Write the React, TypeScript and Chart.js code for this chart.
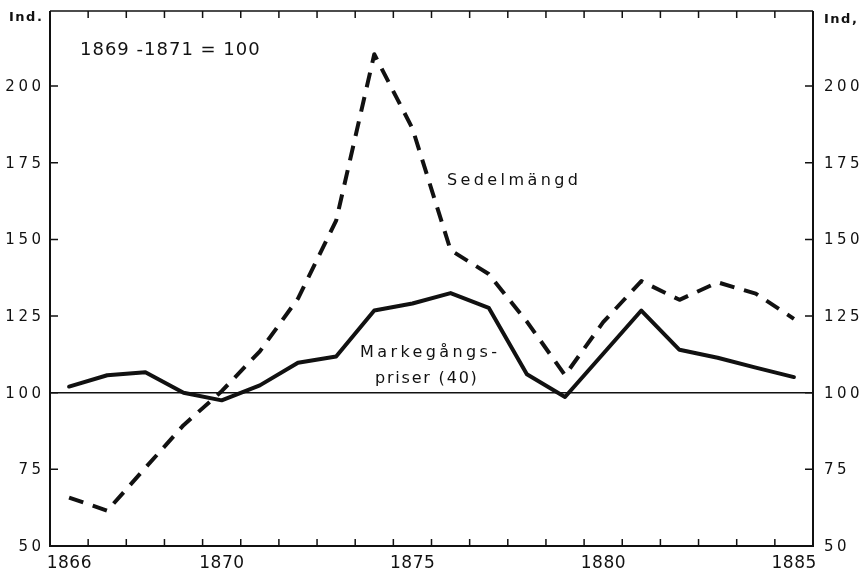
import React, { useEffect, useRef } from 'react';
import { Chart, registerables } from 'chart.js';

Chart.register(...registerables);

// ---- data ----
const years = [
  '1866', '1867', '1868', '1869', '1870', '1871', '1872', '1873', '1874', '1875',
  '1876', '1877', '1878', '1879', '1880', '1881', '1882', '1883', '1884', '1885',
];
const markegangspriser = [
  102, 105.7, 106.7, 100, 97.5, 102.4, 109.8, 111.8, 126.8, 129.1,
  132.5, 127.7, 106, 98.6, 112.7, 126.8, 114, 111.4, 108.2, 105.1,
];
const sedelmangd = [
  65.8, 61.5, 75.5, 89.4, 100.5, 113.5, 130.7, 156.1, 210.4, 186.2,
  146.5, 138.7, 123.2, 105.7, 123, 136.4, 130.3, 136, 132.3, 124.1,
];
const yTickValues = [50, 75, 100, 125, 150, 175, 200];
const xLabelYears = ['1866', '1870', '1875', '1880', '1885'];
const Y_MIN = 50;
const Y_MAX = 224.5;
const BASE_VALUE = 100;

const baseNote = '1869 -1871 = 100';
const sedelLabel = 'Sedelmängd';
const markeLabel1 = 'Markegångs-';
const markeLabel2 = 'priser (40)';
const unitLeft = 'Ind.';
const unitRight = 'Ind,';

const FONT = '"DejaVu Sans", sans-serif';
const INK = '#111111';

function drawSpaced(
  ctx: CanvasRenderingContext2D,
  text: string,
  x: number,
  y: number,
  spacing: number,
  align: 'left' | 'right' | 'center'
) {
  (ctx as any).letterSpacing = spacing + 'px';
  const w = ctx.measureText(text).width - spacing;
  let sx = x;
  if (align === 'right') sx = x - w;
  else if (align === 'center') sx = x - w / 2;
  ctx.textAlign = 'left';
  ctx.fillText(text, sx, y);
  (ctx as any).letterSpacing = '0px';
}

const framePlugin = {
  id: 'framePlugin',
  beforeDatasetsDraw(chart: any) {
    const { ctx, chartArea, scales } = chart;
    const { left, right, top, bottom } = chartArea;
    const x = scales.x;
    const y = scales.y;
    ctx.save();
    ctx.strokeStyle = INK;
    ctx.lineCap = 'butt';

    // base line at 100
    const by = y.getPixelForValue(BASE_VALUE);
    ctx.lineWidth = 1.5;
    ctx.beginPath();
    ctx.moveTo(left, by);
    ctx.lineTo(right, by);
    ctx.stroke();

    // frame
    ctx.lineWidth = 2;
    ctx.beginPath();
    ctx.moveTo(left, top);
    ctx.lineTo(left, bottom);
    ctx.lineTo(right, bottom);
    ctx.lineTo(right, top);
    ctx.stroke();
    ctx.lineWidth = 1.5;
    ctx.beginPath();
    ctx.moveTo(left, top);
    ctx.lineTo(right, top);
    ctx.stroke();

    // y ticks (inward, both sides)
    ctx.lineWidth = 1.5;
    yTickValues.forEach((v) => {
      if (v === Y_MIN) return;
      const py = y.getPixelForValue(v);
      ctx.beginPath();
      ctx.moveTo(left, py);
      ctx.lineTo(left + 8, py);
      ctx.moveTo(right - 8, py);
      ctx.lineTo(right, py);
      ctx.stroke();
    });

    // x ticks at category boundaries (inward, top and bottom)
    for (let i = 1; i < years.length; i++) {
      const px = (x.getPixelForValue(i - 1) + x.getPixelForValue(i)) / 2;
      ctx.beginPath();
      ctx.moveTo(px, bottom);
      ctx.lineTo(px, bottom - 7);
      ctx.moveTo(px, top);
      ctx.lineTo(px, top + 7);
      ctx.stroke();
    }
    ctx.restore();
  },
  afterDraw(chart: any) {
    const { ctx, chartArea, scales } = chart;
    const { left, right } = chartArea;
    const x = scales.x;
    const y = scales.y;
    ctx.save();
    ctx.fillStyle = INK;
    ctx.textBaseline = 'middle';

    // y tick labels both sides
    ctx.font = `15px ${FONT}`;
    yTickValues.forEach((v) => {
      const py = y.getPixelForValue(v) + 1;
      drawSpaced(ctx, String(v), left - 9, py, 3.5, 'right');
      drawSpaced(ctx, String(v), right + 11, py, 3.5, 'left');
    });

    // x labels
    ctx.font = `17px ${FONT}`;
    xLabelYears.forEach((yr) => {
      const idx = years.indexOf(yr);
      const px = x.getPixelForValue(idx);
      drawSpaced(ctx, yr, px, 564, 0.5, 'center');
    });

    // unit labels
    ctx.font = `bold 13px ${FONT}`;
    drawSpaced(ctx, unitLeft, 9, 18, 1.5, 'left');
    drawSpaced(ctx, unitRight, 824, 20, 1.5, 'left');

    // annotations
    ctx.font = `18px ${FONT}`;
    drawSpaced(ctx, baseNote, 80, 50, 1, 'left');
    ctx.font = `16px ${FONT}`;
    drawSpaced(ctx, sedelLabel, 447, 181, 3.4, 'left');
    drawSpaced(ctx, markeLabel1, 360, 353, 3.4, 'left');
    drawSpaced(ctx, markeLabel2, 375, 379, 1.8, 'left');

    ctx.restore();
  },
};

export default function App() {
  const canvasRef = useRef<HTMLCanvasElement | null>(null);

  useEffect(() => {
    const canvas = canvasRef.current;
    if (!canvas) return;
    const chart = new Chart(canvas, {
      type: 'line',
      data: {
        labels: years,
        datasets: [
          {
            label: 'Markegångspriser (40)',
            data: markegangspriser,
            borderColor: INK,
            borderWidth: 4,
            pointRadius: 0,
            tension: 0,
            borderJoinStyle: 'round',
            borderCapStyle: 'round',
            fill: false,
          },
          {
            label: 'Sedelmängd',
            data: sedelmangd,
            borderColor: INK,
            borderWidth: 4,
            borderDash: [15, 10],
            pointRadius: 0,
            tension: 0,
            borderJoinStyle: 'round',
            borderCapStyle: 'butt',
            fill: false,
          },
        ],
      },
      options: {
        responsive: false,
        animation: false,
        devicePixelRatio: 1,
        layout: { padding: { top: 11, right: 49, left: 0, bottom: 0 } },
        plugins: {
          legend: { display: false },
          tooltip: { enabled: false },
        },
        scales: {
          x: {
            type: 'category',
            offset: true,
            grid: { display: false },
            border: { display: false },
            ticks: { display: false },
            afterFit: (s: any) => {
              s.height = 28;
            },
          },
          y: {
            type: 'linear',
            min: Y_MIN,
            max: Y_MAX,
            grid: { display: false },
            border: { display: false },
            ticks: { display: false },
            afterFit: (s: any) => {
              s.width = 50;
            },
          },
        },
      },
      plugins: [framePlugin],
    } as any);
    return () => chart.destroy();
  }, []);

  return (
    <div style={{ position: 'absolute', left: 0, top: 0, width: 862, height: 574, background: '#fff' }}>
      <canvas ref={canvasRef} width={862} height={574} style={{ display: 'block' }} />
    </div>
  );
}
